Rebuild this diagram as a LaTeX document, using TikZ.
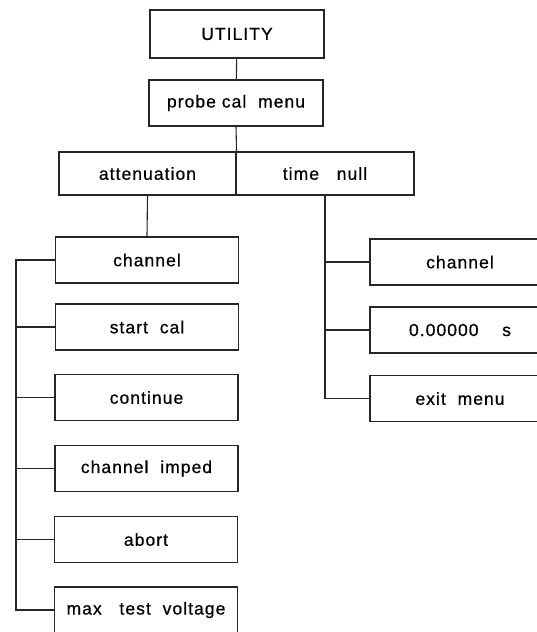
\documentclass[tikz,border=0pt]{standalone}
\usepackage{fontspec}
\setmainfont{Liberation Sans}[LetterSpace=6,FakeBold=0.6]
\begin{document}
\begin{tikzpicture}[x=1pt,y=-1pt,
  box/.style={draw=black!85, line width=1.1pt, minimum height=46pt, inner sep=0pt, font=\fontsize{17.5}{20}\selectfont},
  wire/.style={draw=black!85, line width=1.1pt}]
\useasboundingbox (0,0) rectangle (537,632);
\clip (0,0) rectangle (537,632);
% top
\node[box, minimum width=174pt, minimum height=48pt] (util) at (237,34) {UTILITY};
\node[box, minimum width=174pt] (probe) at (236,103) {probe cal\ \ menu};
\node[box, minimum width=177pt, minimum height=43pt] (att) at (147.5,173.5) {attenuation};
\node[box, minimum width=178pt, minimum height=43pt] (tn) at (325,173.5) {time\ \ \ null};
\draw[wire] (util) -- (probe);
\draw[wire] (probe.south) -- (att.north east);
% left column
\node[box, minimum width=183pt] (chL) at (147,260) {channel};
\node[box, minimum width=183pt] (sc) at (147,327) {start\ \ cal};
\node[box, minimum width=183pt] (co) at (146.5,397.5) {continue};
\node[box, minimum width=183pt] (ci) at (146.5,468.5) {channel\ \ imped};
\node[box, minimum width=183pt] (ab) at (146,539.5) {abort};
\node[box, minimum width=183pt] (mt) at (146,610) {max\ \ \ test\ \ voltage};
\coordinate (busT) at (16,260);
\draw[wire] (att.south) -- (chL.north);
\draw[wire] (chL.west) -- (busT) |- (mt.west);
\foreach \n in {sc,co,ci,ab} \draw[wire] (\n.west) -- (\n.west -| busT);
% right column
\node[box, minimum width=180pt] (rch) at (460,262) {channel};
\node[box, minimum width=180pt] (tv) at (460,330) {0.00000\ \ \ \ s};
\node[box, minimum width=180pt] (ex) at (460,398.5) {exit\ \ menu};
\draw[wire] (tn.south) |- (ex.west);
\foreach \n in {rch,tv} \draw[wire] (\n.west) -- (\n.west -| tn.south);
\end{tikzpicture}
\end{document}
